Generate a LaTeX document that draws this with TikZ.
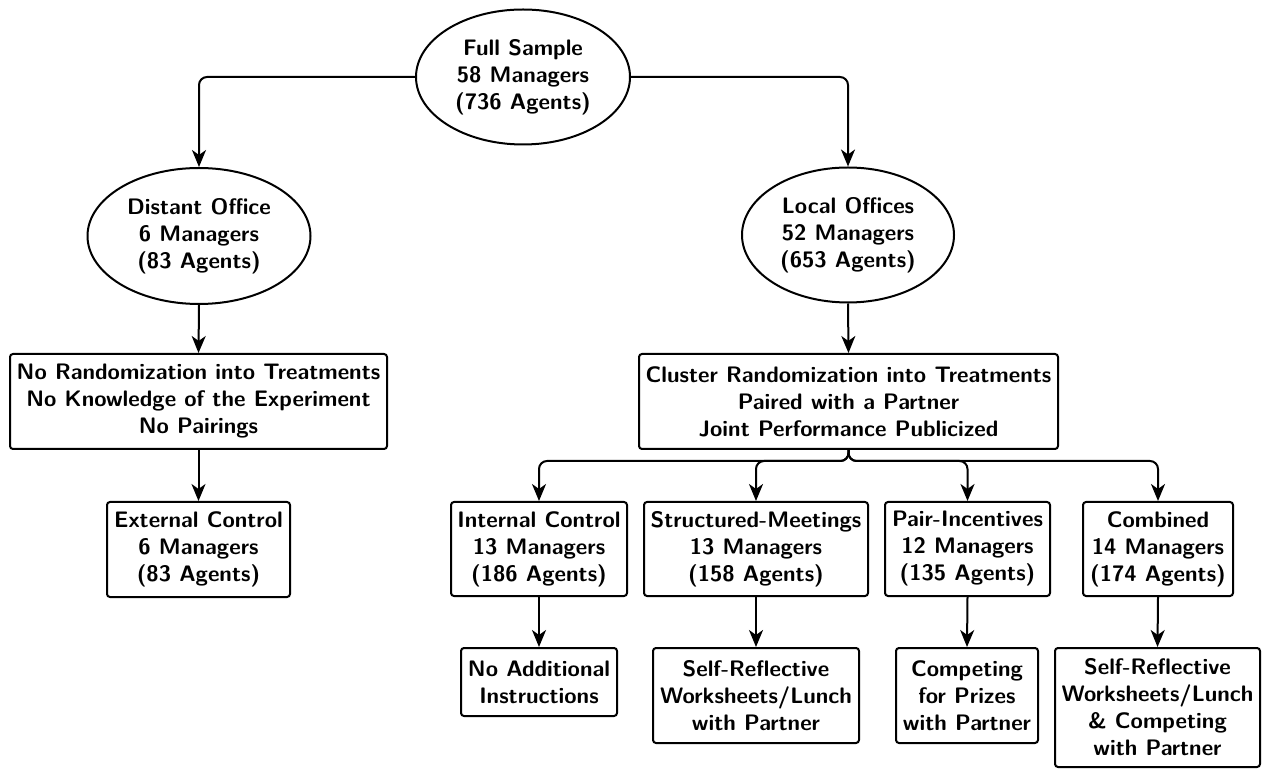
\documentclass[tikz,border=0pt]{standalone}
\usetikzlibrary{arrows.meta,shapes.geometric}
\begin{document}
\begin{tikzpicture}[x=0.5pt,y=-0.5pt,
  font=\fontsize{11.2}{13.5}\selectfont\sffamily\bfseries,
  every node/.style={align=center, inner sep=0pt, line width=1pt},
  ell/.style 2 args={draw, ellipse, minimum width=#1*0.5pt, minimum height=#2*0.5pt},
  bx/.style 2 args={draw, rectangle, rounded corners=1.5pt, minimum width=#1*0.5pt, minimum height=#2*0.5pt},
  arr/.style={draw, line width=1pt, -{Stealth[length=8.5pt,width=7pt,inset=2.5pt]}, rounded corners=4pt}]
\useasboundingbox (0,0) rectangle (1263,769);

\node[ell={214}{135}] (full) at (523,77) {Full Sample\\58 Managers\\(736 Agents)};
\node[ell={223}{136}] (dist) at (199,236) {Distant Office\\6 Managers\\(83 Agents)};
\node[ell={212}{135}] (local) at (848,235) {Local Offices\\52 Managers\\(653 Agents)};

\node[bx={377}{95}] (norand) at (198.5,401.5) {No Randomization into Treatments\\No Knowledge of the Experiment\\No Pairings};
\node[bx={419}{95}] (cluster) at (848.5,401.5) {Cluster Randomization into Treatments\\Paired with a Partner\\Joint Performance Publicized};

\node[bx={183}{95}] (ext) at (198.5,549.5) {External Control\\6 Managers\\(83 Agents)};
\node[bx={176}{94}] (ic) at (539,549) {Internal Control\\13 Managers\\(186 Agents)};
\node[bx={224}{94}] (sm) at (756,549) {Structured-Meetings\\13 Managers\\(158 Agents)};
\node[bx={165}{94}] (pi) at (967.5,549) {Pair-Incentives\\12 Managers\\(135 Agents)};
\node[bx={150}{94}] (cb) at (1158,549) {Combined\\14 Managers\\(174 Agents)};

\node[bx={156}{68}] (na) at (539,682) {No Additional\\Instructions};
\node[bx={206}{95}] (smsr) at (756,695.5) {Self-Reflective\\Worksheets/Lunch\\with Partner};
\node[bx={142}{95}] (comp) at (967,695.5) {Competing\\for Prizes\\with Partner};
\node[bx={205}{119}] (cbsr) at (1157.5,707.5) {Self-Reflective\\Worksheets/Lunch\\\& Competing\\with Partner};

\coordinate (fork) at (848,461);

\draw[arr] (full.west) -| (dist.north);
\draw[arr] (full.east) -| (local.north);
\draw[arr] (dist.south) -- (norand.north);
\draw[arr] (local.south) -- (cluster.north);
\draw[arr] (norand.south) -- (ext.north);
\draw[arr] (cluster.south) |- (ic.north |- fork) -- (ic.north);
\draw[arr] (cluster.south) |- (sm.north |- fork) -- (sm.north);
\draw[arr] (cluster.south) |- (pi.north |- fork) -- (pi.north);
\draw[arr] (cluster.south) |- (cb.north |- fork) -- (cb.north);
\draw[arr] (ic.south) -- (na.north);
\draw[arr] (sm.south) -- (smsr.north);
\draw[arr] (pi.south) -- (comp.north);
\draw[arr] (cb.south) -- (cbsr.north);
\end{tikzpicture}
\end{document}
